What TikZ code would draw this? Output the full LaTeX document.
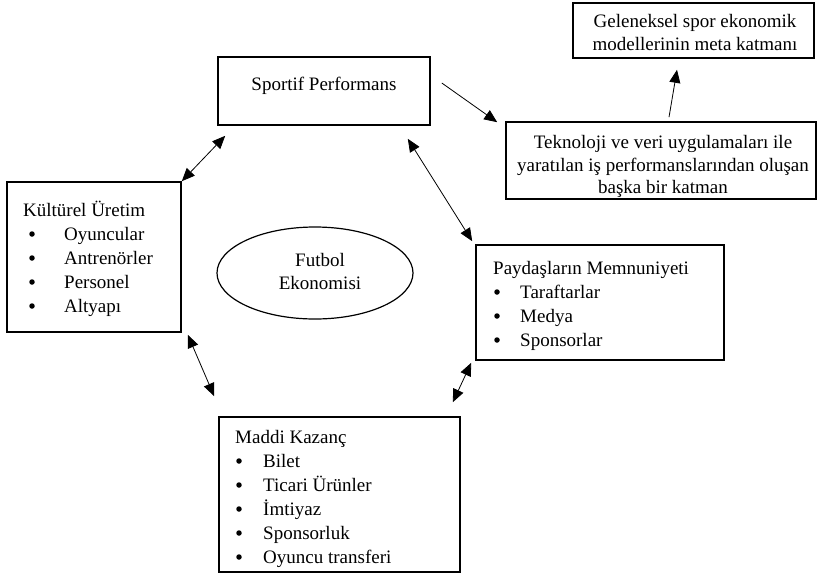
\documentclass[tikz,border=0pt]{standalone}
\usepackage{fontspec}
\setmainfont{Liberation Serif}
\usetikzlibrary{calc,arrows.meta,shapes.geometric}
\begin{document}
\begin{tikzpicture}[x=1pt,y=-1pt,
  box/.style={draw,line width=1.6pt,rectangle,inner sep=0pt},
  txt/.style={inner sep=0pt,anchor=base,font=\fontsize{19}{23}\selectfont},
  ltxt/.style={inner sep=0pt,anchor=base west,font=\fontsize{19}{23}\selectfont},
  bul/.style={circle,fill=black,inner sep=0pt,minimum size=5.5pt},
  arr/.style={line width=0.8pt,-{Triangle[length=13pt,width=11pt]}},
  darr/.style={line width=0.8pt,{Triangle[length=13pt,width=11pt]}-{Triangle[length=13pt,width=11pt]}}]
\useasboundingbox (0,0) rectangle (818,576);
% boxes
\node[box,minimum width=212pt,minimum height=68pt] (sp) at (324,91) {};
\node[box,minimum width=174pt,minimum height=150pt] (ku) at (94,257) {};
\node[box,minimum width=248pt,minimum height=115pt] (pay) at (600,302.5) {};
\node[box,minimum width=241pt,minimum height=155pt] (md) at (339.5,494.5) {};
\node[box,minimum width=310pt,minimum height=77pt] (tek) at (661,160.5) {};
\node[box,minimum width=241pt,minimum height=55pt] (gel) at (693.5,30.5) {};
\node[draw,line width=1.2pt,ellipse,minimum width=196pt,minimum height=92pt,inner sep=0pt] (el) at (315,273) {};
% texts
\node[txt] (spt) at (324,90) {Sportif Performans};
\node[txt] (gel1) at (695,27) {Geleneksel spor ekonomik};
\node[txt] (gel2) at (695,50) {modellerinin meta katmanı};
\node[txt] (tek1) at (663,148) {Teknoloji ve veri uygulamaları ile};
\node[txt] (tek2) at (663,171) {yaratılan iş performanslarından oluşan};
\node[txt] (tek3) at (663,193) {başka bir katman};
\node[txt] (el1) at (320,266) {Futbol};
\node[txt] (el2) at (320,289) {Ekonomisi};
% Kültürel
\node[ltxt] (kut) at (23,216) {Kültürel Üretim};
\foreach \y/\t [count=\i] in {240/Oyuncular,264/Antrenörler,288/Personel,312/Altyapı}{
  \node[bul] (kub\i) at (32,\y-6) {};
  \node[ltxt] (kui\i) at (64,\y) {\t};
}
% Paydaş
\node[ltxt] (payt) at (493,274) {Paydaşların Memnuniyeti};
\foreach \y/\t [count=\i] in {298/Taraftarlar,322/Medya,346/Sponsorlar}{
  \node[bul] (payb\i) at (497,\y-6) {};
  \node[ltxt] (payi\i) at (520,\y) {\t};
}
% Maddi
\node[ltxt] (mdt) at (235,443) {Maddi Kazanç};
\foreach \y/\t [count=\i] in {467/Bilet,491/Ticari Ürünler,515/İmtiyaz,539/Sponsorluk,563/Oyuncu transferi}{
  \node[bul] (mdb\i) at (239,\y-6) {};
  \node[ltxt] (mdi\i) at (263,\y) {\t};
}
% connectors
\draw[arr] ($(sp.east)+(11,-8)$) -- ($(tek.north west)+(-8,1)$);
\draw[arr] ($(tek.north)+(8,-4)$) -- ($(gel.south)+(-16.5,11)$);
\draw[darr] (ku.north east) -- ($(sp.south west)+(8,10)$);
\draw[darr] ($(ku.south east)+(6,2)$) -- ($(md.north west)+(-4,-20)$);
\draw[darr] ($(sp.south east)+(-23,13)$) -- ($(pay.north west)+(-3,-3)$);
\draw[darr] ($(pay.south west)+(-4,2)$) -- ($(md.north east)+(-8,-14)$);
\end{tikzpicture}
\end{document}
